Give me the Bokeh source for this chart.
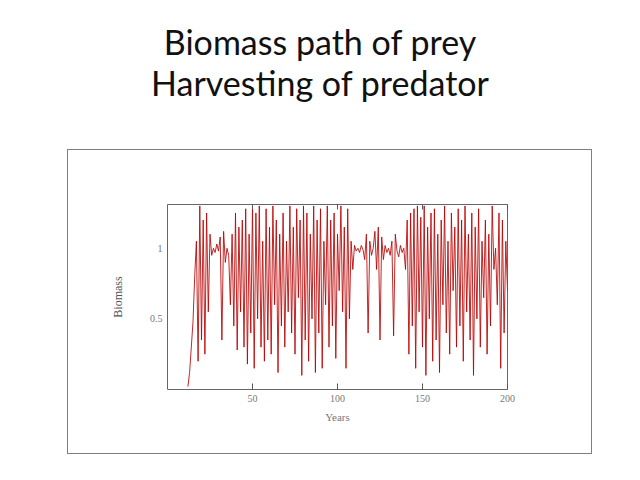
from bokeh.plotting import figure
from bokeh.layouts import column
from bokeh.models import Div, FixedTicker, LinearAxis, Range1d
from bokeh.embed import file_html
from bokeh.resources import INLINE

title_lines = ["Biomass path of prey", "Harvesting of predator"]
x_label = "Years"
y_label = "Biomass"
x_ticks = [50, 100, 150, 200]
y_ticks = [0.5, 1]

start_year = 12
biomass = [
    0.02, 0.12, 0.30, 0.48, 0.80, 1.05, 0.20, 1.30, 0.35,
    1.20, 0.25, 1.25, 0.55, 1.10, 0.95, 1.00, 0.97, 1.03, 0.98,
    1.08, 0.35, 1.12, 0.90, 1.00, 0.95, 0.60, 1.10, 0.45, 1.25,
    0.28, 1.15, 0.55, 1.20, 0.30, 1.28, 0.18, 1.10, 0.40, 1.30,
    0.15, 1.25, 0.50, 1.30, 0.30, 1.05, 0.20, 1.28, 0.35, 1.15,
    0.25, 1.30, 0.60, 1.20, 0.12, 1.10, 0.45, 1.25, 0.30, 1.05,
    0.55, 1.30, 0.40, 1.15, 0.25, 1.28, 0.65, 1.20, 0.10, 1.30,
    0.35, 1.25, 0.20, 1.10, 0.50, 1.30, 0.12, 1.20, 0.40, 1.28,
    0.15, 1.05, 0.60, 1.30, 0.30, 1.20, 0.45, 1.25, 0.22, 1.10,
    0.70, 1.30, 0.55, 1.15, 0.15, 1.28, 0.50, 1.05, 0.85, 1.02,
    0.98, 1.00, 0.97, 1.02, 0.99, 0.92, 1.10, 0.40, 1.05, 0.95,
    1.00, 1.12, 0.85, 1.15, 0.35, 1.08, 0.92, 1.02, 0.97, 1.00,
    0.95, 1.05, 0.38, 1.10, 0.98, 0.94, 1.02, 0.97, 1.00, 0.85,
    1.20, 0.25, 1.25, 0.45, 1.28, 0.15, 1.30, 0.55, 1.22, 0.30,
    1.30, 0.10, 1.15, 0.50, 1.25, 0.20, 1.28, 0.35, 1.10, 0.12,
    1.20, 0.60, 1.30, 0.40, 1.05, 0.25, 1.25, 0.70, 1.15, 0.30,
    1.28, 0.45, 1.20, 0.20, 1.30, 0.55, 1.10, 0.35, 1.25, 0.10,
    1.15, 0.50, 1.28, 0.30, 1.05, 0.65, 1.20, 0.25, 1.10, 0.45,
    1.30, 0.85, 1.00, 0.60, 1.25, 0.15, 1.20, 0.40, 1.05, 0.70,
]
years = list(range(start_year, start_year + len(biomass)))

# ---- title area ----
title_html = (
    '<div style="width:624px;padding-left:16px;text-align:center;font-family:Lato;'
    'font-size:34px;line-height:41px;color:#111111;padding-top:21px;">'
    + "<br>".join(title_lines) + "</div>"
)
t = Div(text=title_html, width=624, height=140, margin=(0, 0, 0, 0))

# ---- boxed chart ----
p = figure(width=525, height=305, output_backend="svg", toolbar_location=None,
           x_range=Range1d(0, 200), y_range=Range1d(0, 1.31),
           min_border_left=99, min_border_right=86,
           min_border_top=54, min_border_bottom=66,
           margin=(9, 0, 0, 67),
           styles={"border": "1.5px solid #7f7f7f"})
p.grid.visible = False
p.outline_line_color = "#666666"
p.outline_line_width = 1

p.line(years, biomass, line_color="#b80000", line_width=1.0, line_alpha=0.85)

serif = "Liberation Serif"
xa = p.xaxis[0]
xa.ticker = FixedTicker(ticks=x_ticks)
xa.axis_label = x_label
xa.axis_line_color = None
xa.major_tick_in = 6
xa.major_tick_out = 0
xa.minor_tick_line_color = None
xa.major_tick_line_color = "#555555"
xa.major_label_text_font = serif
xa.major_label_text_font_size = "10px"
xa.major_label_text_color = "#777777"
xa.major_label_standoff = 5
xa.axis_label_text_font = serif
xa.axis_label_text_font_style = "normal"
xa.axis_label_text_font_size = "11px"
xa.axis_label_text_color = "#777777"
xa.axis_label_standoff = 6

ya = p.yaxis[0]
ya.ticker = FixedTicker(ticks=y_ticks)
ya.major_label_overrides = {1: "1", 0.5: "0.5"}
ya.axis_label = y_label
ya.axis_line_color = None
ya.major_tick_in = 0
ya.major_tick_out = 0
ya.minor_tick_line_color = None
ya.major_label_text_font = serif
ya.major_label_text_font_size = "10px"
ya.major_label_text_color = "#777777"
ya.major_label_standoff = 5
ya.axis_label_text_font = serif
ya.axis_label_text_font_style = "normal"
ya.axis_label_text_font_size = "12px"
ya.axis_label_text_color = "#555555"
ya.axis_label_standoff = 22

top_axis = LinearAxis(ticker=FixedTicker(ticks=x_ticks), major_label_text_color=None,
                      axis_line_color=None, major_tick_in=5, major_tick_out=0,
                      minor_tick_line_color=None, major_tick_line_color="#555555")
p.add_layout(top_axis, "above")

open("out.html", "w").write(file_html(column(t, p, spacing=0), INLINE))
